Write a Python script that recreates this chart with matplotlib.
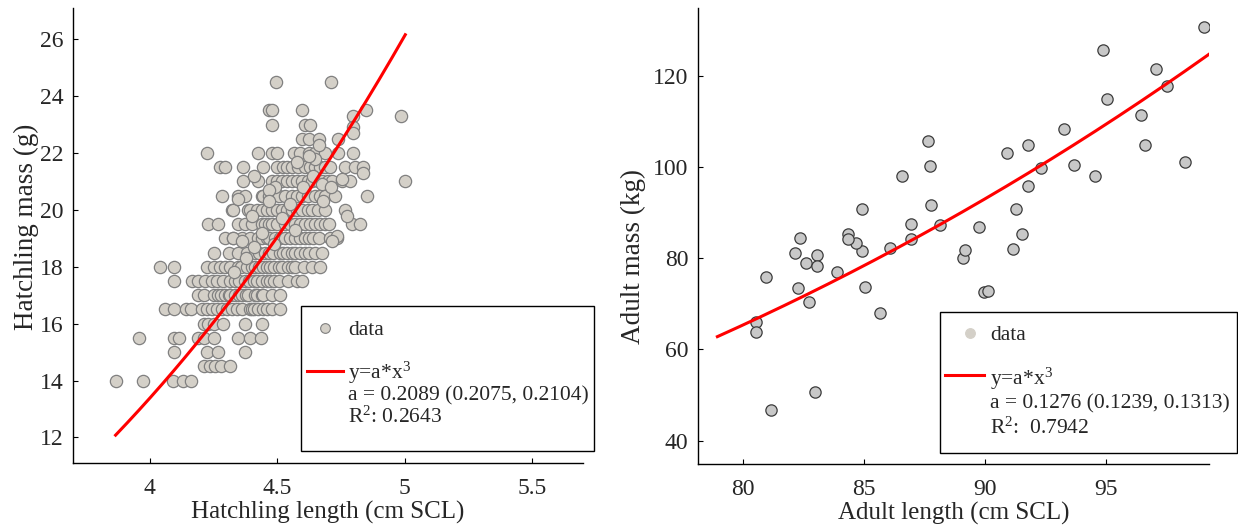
import matplotlib
matplotlib.use('Agg')
import numpy as np
import matplotlib.pyplot as plt
from matplotlib.patches import Rectangle
from matplotlib.lines import Line2D

plt.rcParams['font.family'] = ['Liberation Serif', 'DejaVu Serif']
plt.rcParams['mathtext.fontset'] = 'custom'
plt.rcParams['mathtext.rm'] = 'Liberation Serif'
plt.rcParams['mathtext.it'] = 'Liberation Serif:italic'

# ---- hatchlings: masses are recorded in 0.5 g steps, lengths per mass row ----
hatch_mass_rows = [14.0, 14.5, 15.0, 15.5, 16.0, 16.5, 17.0, 17.5, 18.0, 18.5,
                   19.0, 19.5, 20.0, 20.5, 21.0, 21.5, 22.0, 22.5, 23.0, 23.5, 24.5]
hatch_length_rows = [
    [3.867, 3.976, 4.094, 4.133, 4.163],
    [4.215, 4.238, 4.257, 4.281, 4.316],
    [4.098, 4.224, 4.270, 4.375],
    [3.959, 4.098, 4.117, 4.192, 4.215, 4.251, 4.346, 4.395, 4.438],
    [4.215, 4.231, 4.251, 4.290, 4.375, 4.440],
    [4.061, 4.098, 4.142, 4.163, 4.205, 4.224, 4.244, 4.264, 4.283, 4.303, 4.323,
     4.342, 4.362, 4.395, 4.40, 4.41, 4.427, 4.447, 4.46, 4.480, 4.513],
    [4.192, 4.215, 4.251, 4.270, 4.28, 4.297, 4.31, 4.316, 4.336, 4.35, 4.362, 4.38,
     4.388, 4.414, 4.42, 4.440, 4.447, 4.480, 4.513],
    [4.098, 4.166, 4.192, 4.218, 4.244, 4.264, 4.290, 4.316, 4.336, 4.35, 4.375, 4.39,
     4.408, 4.42, 4.440, 4.46, 4.473, 4.49, 4.506, 4.545, 4.578, 4.597],
    [4.042, 4.098, 4.224, 4.251, 4.277, 4.297, 4.316, 4.349, 4.36, 4.381, 4.40, 4.414,
     4.43, 4.447, 4.46, 4.473, 4.49, 4.506, 4.52, 4.545, 4.56, 4.571, 4.604, 4.637, 4.670],
    [4.251, 4.310, 4.349, 4.381, 4.414, 4.43, 4.454, 4.47, 4.486, 4.51, 4.525, 4.54,
     4.558, 4.57, 4.591, 4.61, 4.624, 4.650, 4.676],
    [4.297, 4.329, 4.362, 4.395, 4.427, 4.44, 4.460, 4.47, 4.493, 4.51, 4.53, 4.552,
     4.57, 4.591, 4.61, 4.624, 4.64, 4.663, 4.709, 4.735],
    [4.231, 4.268, 4.349, 4.375, 4.401, 4.440, 4.454, 4.47, 4.480, 4.50, 4.532, 4.55,
     4.571, 4.59, 4.611, 4.63, 4.650, 4.67, 4.689, 4.702, 4.794, 4.827],
    [4.323, 4.329, 4.388, 4.395, 4.42, 4.440, 4.46, 4.480, 4.50, 4.519, 4.54, 4.558,
     4.58, 4.597, 4.62, 4.637, 4.66, 4.689, 4.768],
    [4.286, 4.349, 4.375, 4.440, 4.447, 4.467, 4.48, 4.506, 4.53, 4.558, 4.58, 4.597,
     4.62, 4.650, 4.67, 4.689, 4.728, 4.852],
    [4.366, 4.427, 4.48, 4.499, 4.519, 4.54, 4.558, 4.58, 4.597, 4.62, 4.637, 4.66,
     4.676, 4.70, 4.715, 4.754, 4.787, 5.003],
    [4.277, 4.297, 4.366, 4.447, 4.50, 4.525, 4.54, 4.558, 4.584, 4.61, 4.630, 4.65,
     4.670, 4.69, 4.709, 4.768, 4.807, 4.839],
    [4.227, 4.427, 4.480, 4.499, 4.565, 4.591, 4.624, 4.650, 4.689, 4.739, 4.797],
    [4.597, 4.624, 4.666, 4.739],
    [4.482, 4.608, 4.630],
    [4.467, 4.480, 4.597, 4.849],
    [4.495, 4.713],
]
# points that sit between the rows
hatch_extra_length = [4.987, 4.797, 4.797, 4.797, 4.666, 4.650, 4.624, 4.839, 4.408,
                      4.676, 4.754, 4.349, 4.493, 4.467, 4.401, 4.774, 4.735, 4.715,
                      4.329, 4.362, 4.55, 4.60, 4.52, 4.57, 4.49, 4.64, 4.44, 4.38,
                      4.33, 4.41, 4.47, 4.58, 4.68, 4.71]
hatch_extra_mass = [23.3, 23.3, 22.9, 22.7, 22.3, 21.8, 21.9, 21.3, 21.2,
                    20.9, 21.1, 20.4, 20.8, 20.7, 19.8, 19.8, 19.1, 18.9,
                    19.0, 18.9, 20.2, 20.8, 19.7, 19.3, 18.8, 21.2, 19.2, 18.3,
                    17.8, 18.7, 20.3, 21.7, 20.3, 20.8]

# ---- adults ----
adult_length = [99.04, 94.88, 97.05, 97.49, 95.05, 96.43, 96.61, 93.24, 93.68, 94.54,
                98.25, 91.78, 90.91, 92.29, 91.78, 91.26, 91.52, 91.14, 89.77, 89.09,
                89.18, 87.64, 87.72, 86.58, 87.79, 88.16, 86.94, 86.94, 86.06, 84.93,
                84.93, 84.67, 84.33, 84.33, 82.36, 82.18, 82.62, 83.06, 83.06, 83.89,
                80.98, 82.28, 82.74, 85.03, 85.65, 89.95, 90.13, 80.55, 80.55, 82.97,
                81.16]
adult_mass = [130.7, 125.7, 121.5, 117.7, 114.8, 111.4, 104.8, 108.4, 100.5, 98.1,
              101.1, 104.8, 103.1, 99.8, 95.9, 90.7, 85.3, 82.1, 86.8, 80.0,
              81.7, 105.6, 100.2, 98.1, 91.7, 87.3, 87.4, 84.2, 82.3, 90.9,
              81.6, 83.3, 85.3, 84.2, 84.5, 81.1, 78.9, 80.7, 78.3, 76.9,
              75.8, 73.4, 70.4, 73.8, 68.0, 72.7, 72.9, 66.1, 63.9, 50.6,
              46.7]

# fitted cubic models (coefficients as printed in the legends)
hatch_a = 0.2089
adult_a = 0.1276          # length in dm
hatch_fit_range = [3.867, 5.003]
adult_fit_range = [78.96, 99.23]

hatch_length = [l for row, ls in zip(hatch_mass_rows, hatch_length_rows) for l in ls] + hatch_extra_length
hatch_mass = [row for row, ls in zip(hatch_mass_rows, hatch_length_rows) for l in ls] + hatch_extra_mass

W, H = 1238, 527
fig = plt.figure(figsize=(W / 100, H / 100), dpi=100)


def fx(px):
    return px / W


def fy(py):
    return 1 - py / H


TXT = '#262626'


def style(ax):
    for s in ['top', 'right']:
        ax.spines[s].set_visible(False)
    for s in ['left', 'bottom']:
        ax.spines[s].set_linewidth(1.0)
        ax.spines[s].set_color('black')
    ax.tick_params(direction='in', length=3.5, width=0.8, labelsize=17,
                   labelcolor=TXT, pad=7)
    ax.tick_params(axis='x', pad=10.5)


# left panel
ax1 = fig.add_axes([fx(73), fy(463), (583 - 73) / W, (463 - 8) / H])
style(ax1)
ax1.scatter(hatch_length, hatch_mass, s=78, facecolor='#D4D0C8', edgecolor='#808080',
            linewidth=0.9, zorder=2)
xf = np.linspace(hatch_fit_range[0], hatch_fit_range[1], 200)
ax1.plot(xf, hatch_a * xf ** 3, color='red', lw=2.2, zorder=3)
ax1.set_xlim(3.7, 5.7)
ax1.set_ylim(11.1, 27.1)
ax1.set_xticks([4, 4.5, 5, 5.5])
ax1.set_xticklabels(['4', '4.5', '5', '5.5'])
ax1.set_yticks(range(12, 27, 2))
ax1.set_xlabel('Hatchling length (cm SCL)', fontsize=18, color=TXT, labelpad=2)
ax1.set_ylabel('Hatchling mass (g)', fontsize=19.5, color=TXT)
ax1.yaxis.set_label_coords(-0.067, 0.52)

# right panel
ax2 = fig.add_axes([fx(698), fy(464), (1209 - 698) / W, (464 - 8) / H])
style(ax2)
ax2.scatter(adult_length, adult_mass, s=66, facecolor='#C8C8C8', edgecolor='#3C3C3C',
            linewidth=0.9, zorder=2)
xf2 = np.linspace(adult_fit_range[0], adult_fit_range[1], 200)
ax2.plot(xf2, adult_a * (xf2 / 10) ** 3, color='red', lw=2.2, zorder=3)
ax2.set_xlim(78.16, 99.24)
ax2.set_ylim(34.9, 134.85)
ax2.set_xticks([80, 85, 90, 95])
ax2.set_yticks([40, 60, 80, 100, 120])
ax2.set_xlabel('Adult length (cm SCL)', fontsize=18, color=TXT, labelpad=2)
ax2.set_ylabel('Adult mass (kg)', fontsize=19.5, color=TXT)
ax2.yaxis.set_label_coords(-0.102, 0.455)


def legend_box(x0, y0, x1, y1, mk, mk_fc, mk_ec, ln, tx, data_base, bases, lines):
    fig.add_artist(Rectangle((fx(x0), fy(y1)), (x1 - x0) / W, (y1 - y0) / H,
                             transform=fig.transFigure, facecolor='white',
                             edgecolor='black', linewidth=1.0, zorder=5))
    fig.add_artist(Line2D([fx(mk[0])], [fy(mk[1])], transform=fig.transFigure,
                          marker='o', markersize=7, markerfacecolor=mk_fc,
                          markeredgecolor=mk_ec, markeredgewidth=0.8, zorder=6))
    fig.add_artist(Line2D([fx(ln[0]), fx(ln[1])], [fy(ln[2]), fy(ln[2])],
                          transform=fig.transFigure, color='red', lw=2.2, zorder=6))
    fig.text(fx(tx), fy(data_base), 'data', fontsize=15.5, color=TXT,
             va='baseline', ha='left', zorder=7)
    for b, s in zip(bases, lines):
        fig.text(fx(tx), fy(b), s, fontsize=15.5, color=TXT, va='baseline',
                 ha='left', zorder=7)


legend_box(301, 306, 594, 451, (325, 328), '#D4D0C8', '#808080', (307, 343, 371), 348,
           335, [379, 400, 423],
           ['y=a*x$^3$', 'a = 0.2089 (0.2075, 0.2104)', 'R$^2$: 0.2643'])
legend_box(940, 312, 1236.5, 452.5, (970, 333), '#D4D0C8', '#D4D0C8', (945, 984, 375), 990,
           340, [385, 408, 434],
           ['y=a*x$^3$', 'a = 0.1276 (0.1239, 0.1313)', 'R$^2$:  0.7942'])

fig.savefig('out.png', dpi=100)
